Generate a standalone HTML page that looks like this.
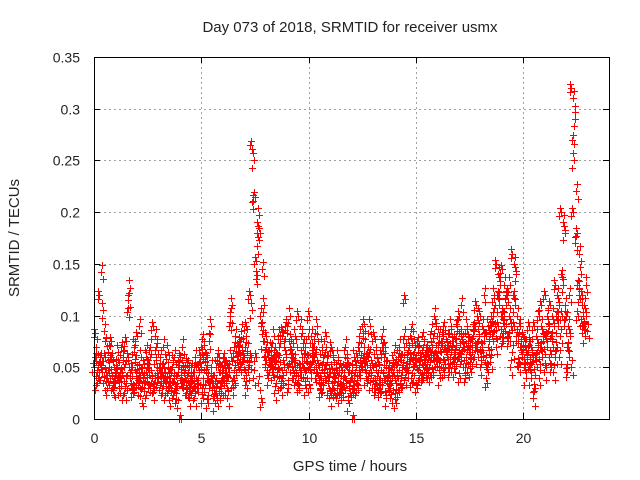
<!DOCTYPE html>
<html><head><meta charset="utf-8"><style>
body{margin:0;background:#fff;}
svg{display:block;font-family:"Liberation Sans",sans-serif;}
</style></head><body>
<svg id="chart" width="640" height="480">
<text x="350" y="32" text-anchor="middle" font-size="15" fill="#222">Day 073 of 2018, SRMTID for receiver usmx</text>
<text x="350" y="471" text-anchor="middle" font-size="15" fill="#222">GPS time / hours</text>
<text transform="translate(19,238) rotate(-90)" text-anchor="middle" font-size="15" fill="#222">SRMTID / TECUs</text>
<g id="grid"></g>
<g id="ticks"></g>
<g id="points"></g>
<rect x="94.5" y="57.5" width="515" height="362" fill="none" stroke="#000" stroke-width="1"/>
</svg>
<script>
const xTicks=[0,5,10,15,20];
const yTicks=[0,0.05,0.1,0.15,0.2,0.25,0.3,0.35];
const yTickLabels=["0","0.05","0.1","0.15","0.2","0.25","0.3","0.35"];
const groupTimes=[];for(let i=0;i<92;i++)groupTimes.push(i*0.25);
const groupValues=[
[0.05,0.07,0.04,0.06,0.035,0.055,0.083,0.045],
[0.12,0.142,0.105,0.06,0.045,0.085,0.05,0.035],
[0.06,0.04,0.05,0.075,0.03,0.055,0.045,0.065],
[0.04,0.03,0.05,0.06,0.035,0.045,0.075,0.028],
[0.035,0.05,0.03,0.045,0.065,0.025,0.04,0.055],
[0.04,0.06,0.03,0.07,0.05,0.035,0.045,0.025],
[0.075,0.115,0.127,0.103,0.05,0.035,0.06,0.04],
[0.05,0.065,0.04,0.03,0.07,0.045,0.025,0.055],
[0.08,0.09,0.06,0.04,0.03,0.05,0.035,0.022],
[0.045,0.03,0.06,0.04,0.02,0.05,0.035,0.065],
[0.05,0.07,0.04,0.03,0.06,0.025,0.045,0.035],
[0.09,0.08,0.05,0.035,0.06,0.04,0.03,0.07],
[0.04,0.06,0.03,0.05,0.035,0.07,0.045,0.025],
[0.05,0.035,0.065,0.04,0.03,0.055,0.045,0.025],
[0.045,0.03,0.055,0.04,0.02,0.06,0.035,0.05],
[0.04,0.025,0.05,0.015,0.035,0.055,0.03,0.045],
[0.06,0.07,0.045,0.035,0.05,0.04,0.0,0.03],
[0.04,0.03,0.05,0.025,0.045,0.035,0.055,0.02],
[0.035,0.045,0.025,0.05,0.03,0.06,0.04,0.02],
[0.05,0.04,0.06,0.03,0.045,0.07,0.035,0.055],
[0.05,0.04,0.065,0.03,0.075,0.045,0.02,0.055],
[0.06,0.075,0.09,0.04,0.03,0.05,0.015,0.035],
[0.04,0.03,0.05,0.02,0.015,0.06,0.035,0.025],
[0.035,0.045,0.025,0.05,0.02,0.04,0.06,0.03],
[0.04,0.05,0.03,0.06,0.045,0.02,0.055,0.035],
[0.05,0.1,0.11,0.09,0.06,0.04,0.045,0.03],
[0.06,0.08,0.05,0.07,0.045,0.065,0.035,0.055],
[0.065,0.085,0.06,0.05,0.07,0.04,0.075,0.055],
[0.06,0.08,0.05,0.07,0.03,0.055,0.09,0.045],
[0.12,0.21,0.25,0.265,0.105,0.15,0.06,0.04],
[0.215,0.18,0.197,0.135,0.16,0.1,0.06,0.035],
[0.18,0.145,0.11,0.09,0.075,0.05,0.016,0.06],
[0.08,0.06,0.05,0.07,0.04,0.055,0.065,0.045],
[0.07,0.06,0.05,0.045,0.08,0.035,0.055,0.025],
[0.065,0.08,0.055,0.045,0.07,0.04,0.06,0.03],
[0.085,0.07,0.06,0.08,0.05,0.045,0.035,0.09],
[0.09,0.075,0.06,0.05,0.1,0.04,0.03,0.07],
[0.06,0.05,0.07,0.04,0.08,0.035,0.055,0.045],
[0.1,0.09,0.06,0.05,0.04,0.07,0.03,0.08],
[0.05,0.07,0.04,0.06,0.03,0.08,0.045,0.055],
[0.1,0.08,0.06,0.05,0.04,0.07,0.03,0.055],
[0.06,0.05,0.075,0.04,0.09,0.035,0.065,0.045],
[0.05,0.04,0.06,0.03,0.07,0.045,0.025,0.055],
[0.04,0.055,0.03,0.065,0.045,0.02,0.08,0.035],
[0.045,0.035,0.055,0.025,0.06,0.04,0.07,0.03],
[0.04,0.03,0.05,0.02,0.06,0.035,0.045,0.025],
[0.05,0.035,0.06,0.025,0.04,0.07,0.03,0.045],
[0.035,0.045,0.025,0.05,0.015,0.04,0.055,0.03],
[0.04,0.03,0.05,0.0,0.06,0.035,0.025,0.045],
[0.06,0.08,0.05,0.07,0.04,0.09,0.03,0.055],
[0.05,0.07,0.04,0.06,0.085,0.035,0.055,0.045],
[0.06,0.05,0.075,0.04,0.09,0.03,0.065,0.045],
[0.05,0.04,0.06,0.03,0.07,0.045,0.08,0.035],
[0.055,0.04,0.07,0.03,0.06,0.045,0.025,0.08],
[0.04,0.05,0.03,0.06,0.02,0.045,0.07,0.035],
[0.045,0.035,0.055,0.02,0.04,0.065,0.03,0.05],
[0.05,0.035,0.06,0.025,0.045,0.07,0.015,0.04],
[0.06,0.045,0.07,0.035,0.05,0.08,0.03,0.055],
[0.116,0.06,0.07,0.05,0.04,0.08,0.045,0.065],
[0.06,0.05,0.07,0.04,0.085,0.055,0.035,0.065],
[0.055,0.065,0.045,0.075,0.04,0.06,0.03,0.05],
[0.06,0.07,0.05,0.08,0.045,0.065,0.04,0.055],
[0.065,0.05,0.075,0.04,0.06,0.085,0.045,0.055],
[0.07,0.1,0.09,0.06,0.05,0.08,0.045,0.065],
[0.06,0.08,0.05,0.07,0.04,0.075,0.055,0.065],
[0.08,0.07,0.06,0.09,0.05,0.075,0.045,0.065],
[0.07,0.06,0.08,0.05,0.09,0.075,0.045,0.065],
[0.075,0.065,0.085,0.055,0.07,0.06,0.045,0.09],
[0.1,0.11,0.07,0.06,0.08,0.05,0.04,0.075],
[0.07,0.06,0.08,0.05,0.09,0.065,0.04,0.075],
[0.075,0.065,0.085,0.055,0.07,0.06,0.045,0.08],
[0.09,0.1,0.08,0.07,0.06,0.05,0.11,0.075],
[0.1,0.09,0.08,0.065,0.06,0.055,0.07,0.12],
[0.08,0.07,0.06,0.05,0.09,0.055,0.035,0.075],
[0.09,0.1,0.11,0.08,0.12,0.07,0.095,0.085],
[0.15,0.14,0.13,0.12,0.11,0.1,0.09,0.08],
[0.145,0.13,0.11,0.1,0.09,0.12,0.075,0.085],
[0.12,0.1,0.09,0.08,0.13,0.065,0.075,0.05],
[0.16,0.15,0.14,0.12,0.11,0.1,0.09,0.08],
[0.08,0.07,0.06,0.05,0.09,0.065,0.055,0.075],
[0.08,0.07,0.06,0.05,0.04,0.065,0.075,0.055],
[0.09,0.07,0.06,0.05,0.04,0.02,0.075,0.055],
[0.09,0.08,0.07,0.06,0.05,0.04,0.03,0.065],
[0.1,0.09,0.08,0.07,0.06,0.045,0.11,0.075],
[0.12,0.1,0.09,0.08,0.07,0.06,0.05,0.085],
[0.11,0.1,0.09,0.08,0.07,0.06,0.05,0.045],
[0.13,0.12,0.11,0.1,0.09,0.08,0.07,0.06],
[0.2,0.19,0.18,0.14,0.13,0.11,0.1,0.09],
[0.1,0.09,0.08,0.07,0.06,0.05,0.045,0.12],
[0.32,0.31,0.29,0.27,0.25,0.22,0.2,0.17],
[0.18,0.16,0.14,0.13,0.12,0.11,0.1,0.09],
[0.12,0.11,0.1,0.09,0.08,0.085,0.095,0.13]
];
const NS="http://www.w3.org/2000/svg";
const X0=94,X1=609,Y0=419,Y1=57,XMAX=24,YMAX=0.35;
function xs(v){return X0+(X1-X0)*v/XMAX;}
function ys(v){return Y0-(Y0-Y1)*v/YMAX;}
const grid=document.getElementById('grid');
const ticks=document.getElementById('ticks');
const pts=document.getElementById('points');
function mk(tag,attrs,parent){const e=document.createElementNS(NS,tag);for(const k in attrs)e.setAttribute(k,attrs[k]);parent.appendChild(e);return e;}
xTicks.forEach(function(t){
  const x=Math.round(xs(t))+0.5;
  if(t>0){
    const g=mk('line',{x1:x,x2:x,y1:Y0,y2:Y1,stroke:'#a0a0a0','stroke-dasharray':'2,3'},grid);
    
    
  }
  const l=mk('text',{x:x,y:443,'text-anchor':'middle','font-size':'14',fill:'#222'},ticks);
  l.textContent=String(t);
  
  
  mk('line',{x1:x,x2:x,y1:Y0,y2:Y0-6,stroke:'#000'},ticks);
  mk('line',{x1:x,x2:x,y1:Y1,y2:Y1+6,stroke:'#000'},ticks);
});
yTicks.forEach(function(t,i){
  const y=Math.round(ys(t))+0.5;
  if(t>0&&t<YMAX){
    const g=mk('line',{x1:X0,x2:X1,y1:y,y2:y,stroke:'#a0a0a0','stroke-dasharray':'2,3'},grid);
    
    
  }
  const l=mk('text',{x:80,y:y+5,'text-anchor':'end','font-size':'14',fill:'#222'},ticks);
  l.textContent=yTickLabels[i];
  
  
  mk('line',{x1:X0,x2:X0+6,y1:y,y2:y,stroke:'#000'},ticks);
  mk('line',{x1:X1,x2:X1-6,y1:y,y2:y,stroke:'#000'},ticks);
});
const dupDx=[0,0.09,0.17];
const dupDy=[0,0.007,-0.007];
let d='';
groupTimes.forEach(function(t,gi){
  const vals=groupValues[gi]||[];
  vals.forEach(function(v,j){
    for(let k=0;k<3;k++){
      const tt=t+((j*3)%8)/8*0.25+dupDx[k]*((j%2)?1:-1)*0.5;
      const vv=Math.max(0,v+dupDy[k]*((j%3===0)?0.6:1));
      const x=Math.round(xs(tt))+0.5;
      const y=Math.round(ys(vv))+0.5;
      d+='M'+(x-3.5)+' '+y+'h7M'+x+' '+(y-3.5)+'v7';
    }
  });
});
const p=mk('path',{d:d,stroke:'#ff0000','stroke-width':'1',fill:'none','shape-rendering':'crispEdges'},pts);


</script>
</body></html>
